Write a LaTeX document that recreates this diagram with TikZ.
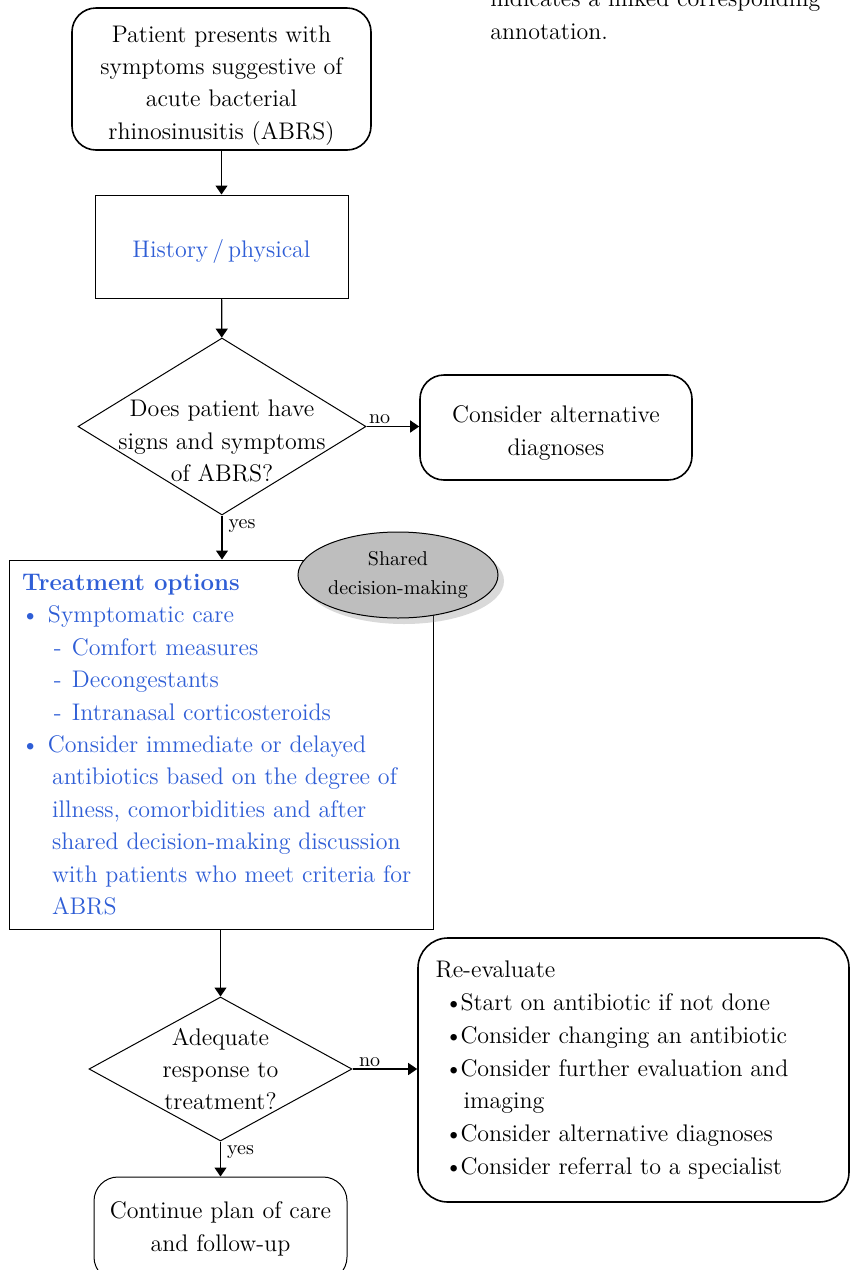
\documentclass[tikz,border=0pt]{standalone}
\usepackage{amsmath}
\usetikzlibrary{shapes.geometric}
\usetikzlibrary{shadows}
\usetikzlibrary{arrows.meta}
\definecolor{linkblue}{RGB}{47,94,214}
\definecolor{bubblegray}{RGB}{190,190,190}

\begin{document}
\begin{tikzpicture}[x=0.5pt,y=-0.5pt]
\tikzstyle{main_font}=[font=\fontsize{12}{16.2}\selectfont];
\tikzstyle{rounded_box}=[rectangle, draw, line width=0.8pt, rounded corners=12pt, align=center, main_font];
\tikzstyle{plain_box}=[rectangle, draw, line width=0.5pt, align=center, main_font];
\tikzstyle{decision}=[diamond, draw, line width=0.5pt, inner sep=0pt];
\tikzstyle{decision_text}=[align=center, inner sep=0pt, main_font];
\tikzstyle{branch_label}=[font=\fontsize{10}{12}\selectfont, inner sep=1pt];
\tikzstyle{flow}=[draw, line width=0.6pt, -{Triangle[length=4.5pt,width=6pt]}];
\useasboundingbox (0,0) rectangle (853,1270);
\coordinate (patient_c) at (221.5,79);
\coordinate (history_c) at (221.5,246.5);
\coordinate (q1_c) at (222,426.5);
\coordinate (q1_txt) at (222,441);
\coordinate (alt_c) at (556,427.5);
\coordinate (treatment_c) at (221,744.5);
\coordinate (shared_c) at (398,575);
\coordinate (q2_c) at (220.5,1069);
\coordinate (reeval_c) at (633.5,1070);
\coordinate (continue_c) at (220.5,1229);
\coordinate (note_c) at (490,40);
\node (note_text) at (note_c) [anchor=south west, align=left, inner sep=0pt, main_font, text=black] {indicates a linked corresponding\\annotation.};
\node (patient) at (patient_c) [rounded_box, text height=63.3pt, inner ysep=2pt, minimum width=149.5pt, minimum height=71pt] {Patient presents with\\symptoms suggestive of\\acute bacterial\\rhinosinusitis (ABRS)};
\node (history) at (history_c) [plain_box, text height=14pt, minimum width=126.5pt, minimum height=51.5pt, text=linkblue] {History\,/\,physical};
\node (q1) at (q1_c) [decision, minimum width=144pt, minimum height=88.5pt] {};
\node (q1_text) at (q1_txt) [decision_text] {Does patient have\\signs and symptoms\\of ABRS?};
\node (alt) at (alt_c) [rounded_box, text height=30pt, minimum width=136pt, minimum height=52.5pt] {Consider alternative\\diagnoses};
\node (treatment) at (treatment_c) [plain_box, minimum width=212pt, minimum height=184.5pt, align=left, inner xsep=6.5pt, text=linkblue] {\makebox[199pt][l]{\bfseries Treatment options}\\
\makebox[13pt][l]{\hspace{-0.5pt}\textbullet}Symptomatic care\\
\makebox[25pt][l]{\hspace{16pt}-}Comfort measures\\
\makebox[25pt][l]{\hspace{16pt}-}Decongestants\\
\makebox[25pt][l]{\hspace{16pt}-}Intranasal corticosteroids\\
\makebox[13pt][l]{\hspace{-0.5pt}\textbullet}Consider immediate or delayed\\
\hspace*{15pt}antibiotics based on the degree of\\
\hspace*{15pt}illness, comorbidities and after\\
\hspace*{15pt}shared decision-making discussion\\
\hspace*{15pt}with patients who meet criteria for\\
\hspace*{15pt}ABRS};
\node (shared) at (shared_c) [ellipse, draw, line width=0.5pt, fill=bubblegray, minimum width=100pt, minimum height=43pt, inner sep=0pt, align=center, font=\fontsize{10}{14.5}\selectfont, drop shadow={shadow xshift=3pt, shadow yshift=-3pt, opacity=0.3}] {Shared\\decision-making};
\node (q2) at (q2_c) [decision, minimum width=131.5pt, minimum height=72pt] {};
\node (q2_text) at (q2_c) [decision_text] {Adequate\\response to\\treatment?};
\node (reeval) at (reeval_c) [rounded_box, rounded corners=15pt, minimum width=215.5pt, minimum height=132pt, align=left, inner xsep=8.5pt, font=\fontsize{12}{16.4}\selectfont] {\makebox[198pt][l]{Re-evaluate}\\
\makebox[12.5pt][l]{\hspace{4.5pt}\textbullet}Start on antibiotic if not done\\
\makebox[12.5pt][l]{\hspace{4.5pt}\textbullet}Consider changing an antibiotic\\
\makebox[12.5pt][l]{\hspace{4.5pt}\textbullet}Consider further evaluation and\\
\hspace*{14pt}imaging\\
\makebox[12.5pt][l]{\hspace{4.5pt}\textbullet}Consider alternative diagnoses\\
\makebox[12.5pt][l]{\hspace{4.5pt}\textbullet}Consider referral to a specialist};
\node (continue) at (continue_c) [rounded_box, line width=0.5pt, minimum width=126.5pt, minimum height=52pt] {Continue plan of care\\and follow-up};
\path (patient) -- (history) [flow];
\path (history) -- (q1) [flow];
\path (q1.east) -- (q1.east -| alt.west) [flow] node[pos=0, anchor=south west, branch_label] {no};
\path (q1.south) -- (q1.south |- treatment.north) [flow] node[pos=0.25, anchor=west, branch_label, xshift=2pt] {yes};
\path (treatment.south -| q2.north) -- (q2.north) [flow];
\path (q2.east) -- (q2.east -| reeval.west) [flow] node[pos=0, anchor=south west, branch_label, xshift=2pt] {no};
\path (q2.south) -- (continue.north) [flow] node[pos=0.3, anchor=west, branch_label, xshift=2pt] {yes};
\end{tikzpicture}
\end{document}
